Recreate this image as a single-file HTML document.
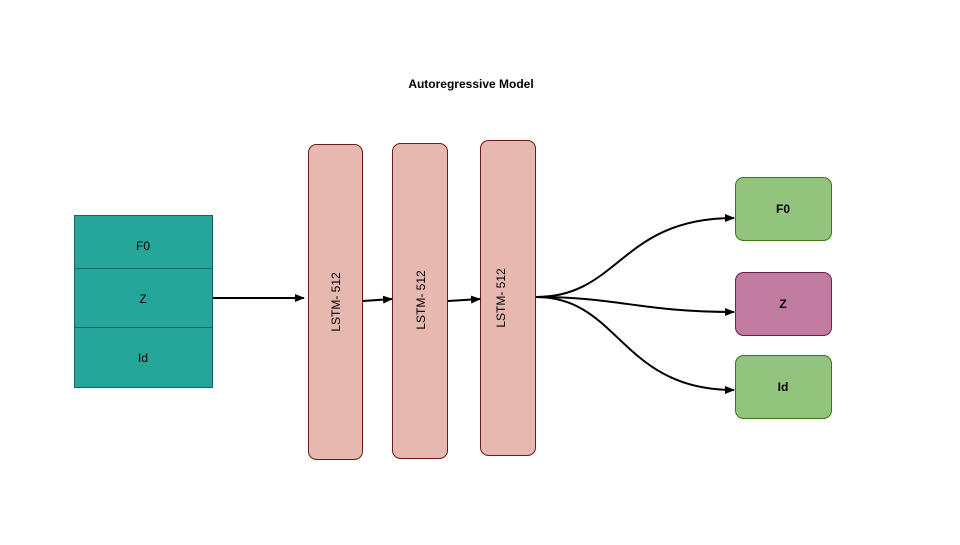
<!DOCTYPE html><html><head><style>body{margin:0;background:#fff}</style></head><body>
<svg width="960" height="540" xmlns="http://www.w3.org/2000/svg" font-family="Liberation Sans, sans-serif">
<rect width="960" height="540" fill="#fff"/>
<text x="471" y="88" font-size="12" font-weight="bold" text-anchor="middle">Autoregressive Model</text>
<rect x="74.5" y="215.5" width="138" height="172" fill="#26a69a" stroke="#0b6b60"/>
<line x1="74.5" y1="268.5" x2="212.5" y2="268.5" stroke="#0b6b60"/>
<line x1="74.5" y1="327.5" x2="212.5" y2="327.5" stroke="#0b6b60"/>
<text x="143" y="250" font-size="12" text-anchor="middle">F0</text>
<text x="143" y="303" font-size="12" text-anchor="middle">Z</text>
<text x="143" y="362" font-size="12" text-anchor="middle">Id</text>
<g fill="#e6b8af" stroke="#6d1b10">
<rect x="308.5" y="144.5" width="54" height="315" rx="8"/>
<rect x="392.5" y="143.5" width="55" height="315" rx="8"/>
<rect x="480.5" y="140.5" width="55" height="315" rx="8"/>
</g>
<g font-size="12" text-anchor="middle">
<text transform="translate(340,302) rotate(-90)">LSTM- 512</text>
<text transform="translate(425,300) rotate(-90)">LSTM- 512</text>
<text transform="translate(505,298) rotate(-90)">LSTM- 512</text>
</g>
<rect x="735.5" y="177.5" width="96" height="63" rx="8" fill="#93c47d" stroke="#38761d"/>
<rect x="735.5" y="272.5" width="96" height="63" rx="8" fill="#c27ba0" stroke="#741b47"/>
<rect x="735.5" y="355.5" width="96" height="63" rx="8" fill="#93c47d" stroke="#38761d"/>
<g font-size="12" font-weight="bold" text-anchor="middle">
<text x="783" y="213">F0</text><text x="783" y="308">Z</text><text x="783" y="391">Id</text>
</g>
<defs><marker id="a" markerWidth="10" markerHeight="8" refX="9" refY="4" orient="auto" markerUnits="userSpaceOnUse"><path d="M0,0L10,4L0,8z" fill="#000"/></marker></defs>
<g stroke="#000" stroke-width="2" fill="none" marker-end="url(#a)">
<line x1="213" y1="298" x2="304" y2="298"/>
<line x1="363" y1="301" x2="392" y2="299"/>
<line x1="448" y1="301" x2="480" y2="299"/>
<path d="M536,297C620,297 620,218 734,218"/>
<path d="M536,297C620,297 640,312 734,312"/>
<path d="M536,297C620,297 620,390 734,390"/>
</g>
</svg></body></html>
